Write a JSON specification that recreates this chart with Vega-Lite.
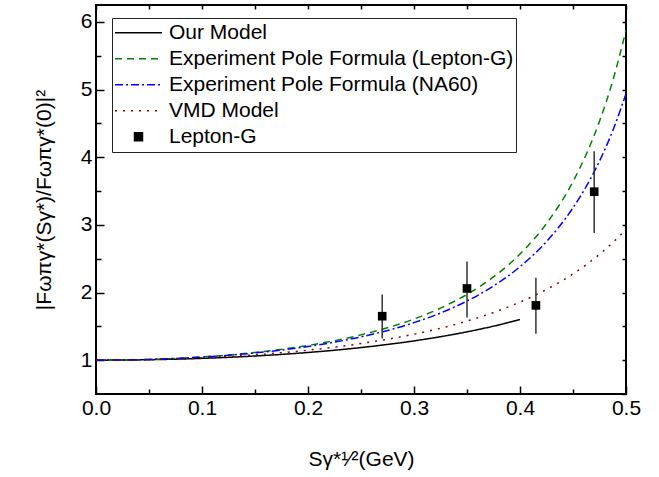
{
  "$schema": "https://vega.github.io/schema/vega-lite/v6.json",
  "width": 530,
  "height": 389,
  "autosize": {"type": "none"},
  "padding": {"left": 96, "top": 5, "right": 33, "bottom": 83},
  "background": "white",
  "config": {
    "font": "Liberation Sans",
    "view": {"stroke": "black", "strokeWidth": 2},
    "axis": {"labelFont": "Liberation Sans", "titleFont": "Liberation Sans", "labelColor": "black", "titleColor": "black", "titleFontWeight": "normal", "grid": false, "domain": false, "tickColor": "black", "tickWidth": 1.5, "labelFlush": false, "labelOverlap": false}
  },
  "datasets": {
    "curves": [
      {"series": "Our Model", "x": 0, "y": 1},
      {"series": "Our Model", "x": 0.05, "y": 1.0066},
      {"series": "Our Model", "x": 0.1, "y": 1.0267},
      {"series": "Our Model", "x": 0.15, "y": 1.0617},
      {"series": "Our Model", "x": 0.2, "y": 1.1137},
      {"series": "Our Model", "x": 0.25, "y": 1.1863},
      {"series": "Our Model", "x": 0.3, "y": 1.2852},
      {"series": "Our Model", "x": 0.325, "y": 1.347},
      {"series": "Our Model", "x": 0.35, "y": 1.4188},
      {"series": "Our Model", "x": 0.375, "y": 1.5026},
      {"series": "Our Model", "x": 0.4, "y": 1.6007},
      {"series": "Experiment Pole Formula (Lepton-G)", "x": 0, "y": 1},
      {"series": "Experiment Pole Formula (Lepton-G)", "x": 0.05, "y": 1.0118},
      {"series": "Experiment Pole Formula (Lepton-G)", "x": 0.1, "y": 1.0487},
      {"series": "Experiment Pole Formula (Lepton-G)", "x": 0.15, "y": 1.1148},
      {"series": "Experiment Pole Formula (Lepton-G)", "x": 0.2, "y": 1.2183},
      {"series": "Experiment Pole Formula (Lepton-G)", "x": 0.25, "y": 1.374},
      {"series": "Experiment Pole Formula (Lepton-G)", "x": 0.3, "y": 1.6084},
      {"series": "Experiment Pole Formula (Lepton-G)", "x": 0.325, "y": 1.7694},
      {"series": "Experiment Pole Formula (Lepton-G)", "x": 0.35, "y": 1.9719},
      {"series": "Experiment Pole Formula (Lepton-G)", "x": 0.375, "y": 2.2308},
      {"series": "Experiment Pole Formula (Lepton-G)", "x": 0.4, "y": 2.5682},
      {"series": "Experiment Pole Formula (Lepton-G)", "x": 0.425, "y": 3.019},
      {"series": "Experiment Pole Formula (Lepton-G)", "x": 0.45, "y": 3.6403},
      {"series": "Experiment Pole Formula (Lepton-G)", "x": 0.4625, "y": 4.0432},
      {"series": "Experiment Pole Formula (Lepton-G)", "x": 0.475, "y": 4.5313},
      {"series": "Experiment Pole Formula (Lepton-G)", "x": 0.4875, "y": 5.1299},
      {"series": "Experiment Pole Formula (Lepton-G)", "x": 0.5, "y": 5.8768},
      {"series": "Experiment Pole Formula (NA60)", "x": 0, "y": 1},
      {"series": "Experiment Pole Formula (NA60)", "x": 0.05, "y": 1.0111},
      {"series": "Experiment Pole Formula (NA60)", "x": 0.1, "y": 1.0455},
      {"series": "Experiment Pole Formula (NA60)", "x": 0.15, "y": 1.1069},
      {"series": "Experiment Pole Formula (NA60)", "x": 0.2, "y": 1.2023},
      {"series": "Experiment Pole Formula (NA60)", "x": 0.25, "y": 1.3443},
      {"series": "Experiment Pole Formula (NA60)", "x": 0.3, "y": 1.5547},
      {"series": "Experiment Pole Formula (NA60)", "x": 0.325, "y": 1.6971},
      {"series": "Experiment Pole Formula (NA60)", "x": 0.35, "y": 1.874},
      {"series": "Experiment Pole Formula (NA60)", "x": 0.375, "y": 2.0966},
      {"series": "Experiment Pole Formula (NA60)", "x": 0.4, "y": 2.3815},
      {"series": "Experiment Pole Formula (NA60)", "x": 0.425, "y": 2.7536},
      {"series": "Experiment Pole Formula (NA60)", "x": 0.45, "y": 3.2523},
      {"series": "Experiment Pole Formula (NA60)", "x": 0.4625, "y": 3.568},
      {"series": "Experiment Pole Formula (NA60)", "x": 0.475, "y": 3.9426},
      {"series": "Experiment Pole Formula (NA60)", "x": 0.4875, "y": 4.3921},
      {"series": "Experiment Pole Formula (NA60)", "x": 0.5, "y": 4.9383},
      {"series": "VMD Model", "x": 0, "y": 1},
      {"series": "VMD Model", "x": 0.05, "y": 1.0084},
      {"series": "VMD Model", "x": 0.1, "y": 1.0341},
      {"series": "VMD Model", "x": 0.15, "y": 1.0794},
      {"series": "VMD Model", "x": 0.2, "y": 1.1478},
      {"series": "VMD Model", "x": 0.25, "y": 1.2458},
      {"series": "VMD Model", "x": 0.3, "y": 1.3836},
      {"series": "VMD Model", "x": 0.325, "y": 1.4723},
      {"series": "VMD Model", "x": 0.35, "y": 1.5781},
      {"series": "VMD Model", "x": 0.375, "y": 1.7049},
      {"series": "VMD Model", "x": 0.4, "y": 1.8581},
      {"series": "VMD Model", "x": 0.425, "y": 2.0452},
      {"series": "VMD Model", "x": 0.45, "y": 2.276},
      {"series": "VMD Model", "x": 0.4625, "y": 2.4123},
      {"series": "VMD Model", "x": 0.475, "y": 2.5655},
      {"series": "VMD Model", "x": 0.4875, "y": 2.7384},
      {"series": "VMD Model", "x": 0.5, "y": 2.9346}
    ],
    "points": [
      {"series": "Lepton-G", "x": 0.27, "y": 1.65, "lo": 1.32, "hi": 1.97},
      {"series": "Lepton-G", "x": 0.35, "y": 2.06, "lo": 1.63, "hi": 2.46},
      {"series": "Lepton-G", "x": 0.415, "y": 1.81, "lo": 1.39, "hi": 2.22},
      {"series": "Lepton-G", "x": 0.47, "y": 3.49, "lo": 2.88, "hi": 4.09}
    ]
  },
  "layer": [
    {
      "layer": [
        {
          "data": {"name": "curves"},
          "mark": {"type": "line", "strokeWidth": 1.5, "interpolate": "monotone", "clip": true},
          "encoding": {
            "x": {
              "field": "x", "type": "quantitative",
              "scale": {"domain": [0, 0.5], "nice": false, "zero": false},
              "axis": {
                "orient": "bottom",
                "values": [0, 0.1, 0.2, 0.3, 0.4, 0.5],
                "format": ".1f",
                "tickSize": -8,
                "labelFontSize": 21,
                "labelPadding": 11,
                "title": "Sγ*¹⁄²(GeV)",
                "titleFontSize": 21,
                "titlePadding": 30
              }
            },
            "y": {
              "field": "y", "type": "quantitative",
              "scale": {"domain": [0.5, 6.25], "nice": false, "zero": false},
              "axis": {
                "orient": "left",
                "values": [1, 2, 3, 4, 5, 6],
                "format": "d",
                "tickSize": -8,
                "labelFontSize": 21,
                "labelPadding": 12,
                "title": "|Fωπγ*(Sγ*)/Fωπγ*(0)|²",
                "titleFontSize": 21,
                "titlePadding": 26
              }
            },
            "color": {
              "field": "series", "type": "nominal",
              "scale": {
                "domain": ["Our Model", "Experiment Pole Formula (Lepton-G)", "Experiment Pole Formula (NA60)", "VMD Model", "Lepton-G"],
                "range": ["#000000", "#008000", "#0000ff", "#8b0000", "#000000"]
              },
              "legend": {
                "orient": "none",
                "legendX": 16,
                "legendY": 13,
                "title": null,
                "strokeColor": "#222222",
                "fillColor": "white",
                "padding": 2,
                "clipHeight": 25.5,
                "rowPadding": 0,
                "symbolSize": 2209,
                "symbolStrokeWidth": 1.5,
                "symbolOffset": 0,
                "labelOffset": 6,
                "labelFontSize": 21,
                "labelFont": "Liberation Sans",
                "labelColor": "black",
                "labelLimit": 500,
                "encode": {
                  "symbols": {
                    "update": {
                      "shape": [{"test": "datum.value === 'Lepton-G'", "value": "M-0.17,-0.17H0.17V0.17H-0.17Z"}, {"value": "stroke"}],
                      "fill": [{"test": "datum.value === 'Lepton-G'", "value": "black"}, {"value": "transparent"}],
                      "strokeDash": [
                        {"test": "datum.value === 'Experiment Pole Formula (Lepton-G)'", "value": [7, 5]},
                        {"test": "datum.value === 'Experiment Pole Formula (NA60)'", "value": [8, 3, 2, 3]},
                        {"test": "datum.value === 'VMD Model'", "value": [2, 6]},
                        {"value": [1, 0]}
                      ]
                    }
                  }
                }
              }
            },
            "strokeDash": {
              "field": "series", "type": "nominal",
              "scale": {
                "domain": ["Our Model", "Experiment Pole Formula (Lepton-G)", "Experiment Pole Formula (NA60)", "VMD Model"],
                "range": [[1, 0], [7, 5], [8, 3, 2, 3], [2, 6]]
              },
              "legend": null
            }
          }
        },
        {
          "data": {"name": "points"},
          "mark": {"type": "rule", "color": "#333333", "strokeWidth": 1.5},
          "encoding": {
            "x": {"field": "x", "type": "quantitative"},
            "y": {"field": "lo", "type": "quantitative"},
            "y2": {"field": "hi"}
          }
        },
        {
          "data": {"name": "points"},
          "mark": {"type": "point", "shape": "square", "filled": true, "size": 75, "opacity": 1, "color": "black"},
          "encoding": {
            "x": {"field": "x", "type": "quantitative"},
            "y": {"field": "y", "type": "quantitative"}
          }
        }
      ]
    },
    {
      "data": {"name": "points"},
      "mark": {"type": "point", "opacity": 0},
      "encoding": {
        "x": {
          "field": "x", "type": "quantitative",
          "scale": {"domain": [0, 0.5], "nice": false, "zero": false},
          "axis": {"orient": "bottom", "labels": false, "title": null, "values": [0.05, 0.15, 0.25, 0.35, 0.45], "tickSize": -5}
        },
        "y": {
          "field": "y", "type": "quantitative",
          "scale": {"domain": [0.5, 6.25], "nice": false, "zero": false},
          "axis": {"orient": "left", "labels": false, "title": null, "values": [1.5, 2.5, 3.5, 4.5, 5.5], "tickSize": -5}
        }
      }
    },
    {
      "data": {"name": "points"},
      "mark": {"type": "point", "opacity": 0},
      "encoding": {
        "x": {
          "field": "x", "type": "quantitative",
          "scale": {"domain": [0, 0.5], "nice": false, "zero": false},
          "axis": {"orient": "top", "labels": false, "title": null, "values": [0, 0.05, 0.1, 0.15, 0.2, 0.25, 0.3, 0.35, 0.4, 0.45, 0.5], "tickSize": -4}
        },
        "y": {
          "field": "y", "type": "quantitative",
          "scale": {"domain": [0.5, 6.25], "nice": false, "zero": false},
          "axis": {"orient": "right", "labels": false, "title": null, "values": [0.5, 1, 1.5, 2, 2.5, 3, 3.5, 4, 4.5, 5, 5.5, 6], "tickSize": -4}
        }
      }
    }
  ],
  "resolve": {"scale": {"x": "independent", "y": "independent"}}
}
